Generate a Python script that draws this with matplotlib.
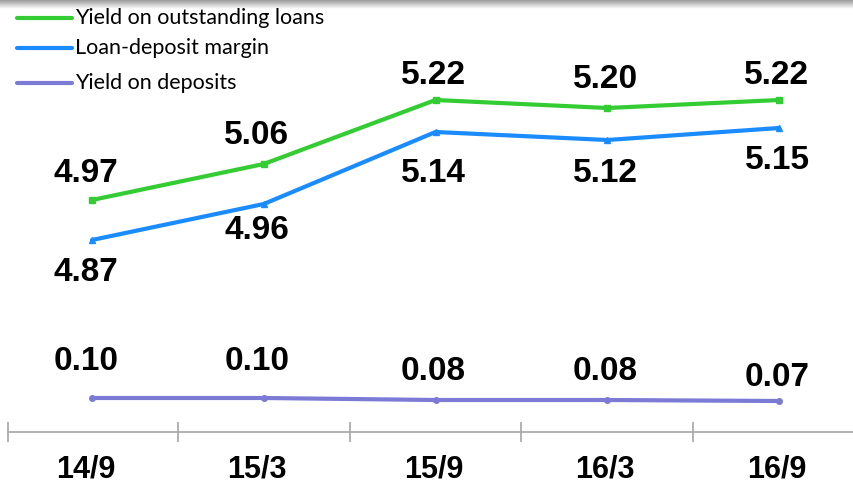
import matplotlib.pyplot as plt
from matplotlib.lines import Line2D
from matplotlib.transforms import ScaledTranslation
import numpy as np

periods = ["14/9", "15/3", "15/9", "16/3", "16/9"]
loan_yield = [4.97, 5.06, 5.22, 5.20, 5.22]
margin = [4.87, 4.96, 5.14, 5.12, 5.15]
deposit_yield = [0.10, 0.10, 0.08, 0.08, 0.07]

# label offsets in pixels (dy: + is up)
label_dx = [-6, -7, -2, -2, -2]
loan_dy = [26, 28, 25, 28, 25]
margin_dy = [-33, -27, -41, -34, -33]
deposit_dy = [36, 36, 28, 28, 23]

GREEN = "#33cc33"
BLUE = "#1a8cff"
PURPLE = "#7b7bd6"
PX = 72 / 100  # points per pixel at dpi 100

plt.rcParams["font.family"] = ["Liberation Sans", "DejaVu Sans"]

fig = plt.figure(figsize=(8.54, 4.84), dpi=100)

# soft gray band along the top edge
band = fig.add_axes([0, 1 - 9 / 484, 1, 9 / 484])
grad = np.linspace(0.6, 1.0, 50).reshape(-1, 1)
band.imshow(np.repeat(grad, 2, axis=1), cmap="gray", vmin=0, vmax=1,
            aspect="auto", extent=[0, 1, 0, 1], origin="upper")
band.axis("off")

ax = fig.add_axes([0, 52 / 484, 1, 432 / 484])
ax.set_zorder(2)
ax.patch.set_visible(False)
x = np.arange(len(periods))

ax.plot(x, loan_yield, color=GREEN, lw=3, marker="s", ms=4, solid_capstyle="round")
ax.plot(x, margin, color=BLUE, lw=3, marker="^", ms=4, solid_capstyle="round")
ax.set_xlim(-0.5357, 4.4367)
ax.set_ylim(4.39, 5.47)


def put_labels(axis, values, dys):
    for xi, v, dx, dy in zip(x, values, label_dx, dys):
        axis.annotate(f"{v:.2f}", (xi, v), xytext=(dx * PX, dy * PX),
                      textcoords="offset points", ha="center", va="center",
                      fontsize=24, fontweight="bold")


put_labels(ax, loan_yield, loan_dy)
put_labels(ax, margin, margin_dy)

# deposits live on their own scale near the axis
ax2 = ax.twinx()
ax2.plot(x, deposit_yield, color=PURPLE, lw=3, marker="o", ms=4, solid_capstyle="round")
ax2.set_ylim(-0.24, 4.08)
ax2.axis("off")
put_labels(ax2, deposit_yield, deposit_dy)

for s in ["top", "right", "left"]:
    ax.spines[s].set_visible(False)
ax.spines["bottom"].set_color("#a6a6a6")
ax.spines["bottom"].set_linewidth(1.2)
ax.spines["bottom"].set_bounds(-0.49, 4.4367)
ax.set_yticks([])
ax.set_xticks(x)
ax.set_xticklabels(periods, fontsize=22, fontweight="bold")
ax.tick_params(axis="x", which="major", length=0, pad=16)
for lbl, dx in zip(ax.get_xticklabels(), label_dx):
    lbl.set_transform(lbl.get_transform() + ScaledTranslation(dx / 100, 0, fig.dpi_scale_trans))
ax.set_xticks(np.r_[-0.49, x[:-1] + 0.5], minor=True)
ax.tick_params(axis="x", which="minor", direction="inout", length=14,
               width=1.2, color="#a6a6a6")

# legend
legend_items = [("Yield on outstanding loans", GREEN, 18),
                ("Loan-deposit margin", BLUE, 48),
                ("Yield on deposits", PURPLE, 83)]
for label, color, py in legend_items:
    yy = 1 - py / 484
    fig.add_artist(Line2D([17 / 854, 72 / 854], [yy, yy], color=color, lw=3,
                          solid_capstyle="round"))
    fig.text(75 / 854, yy, label, fontsize=15.5, va="center", ha="left",
             family=["Lato", "DejaVu Sans"], color="black")

fig.savefig("out.png", dpi=100)
